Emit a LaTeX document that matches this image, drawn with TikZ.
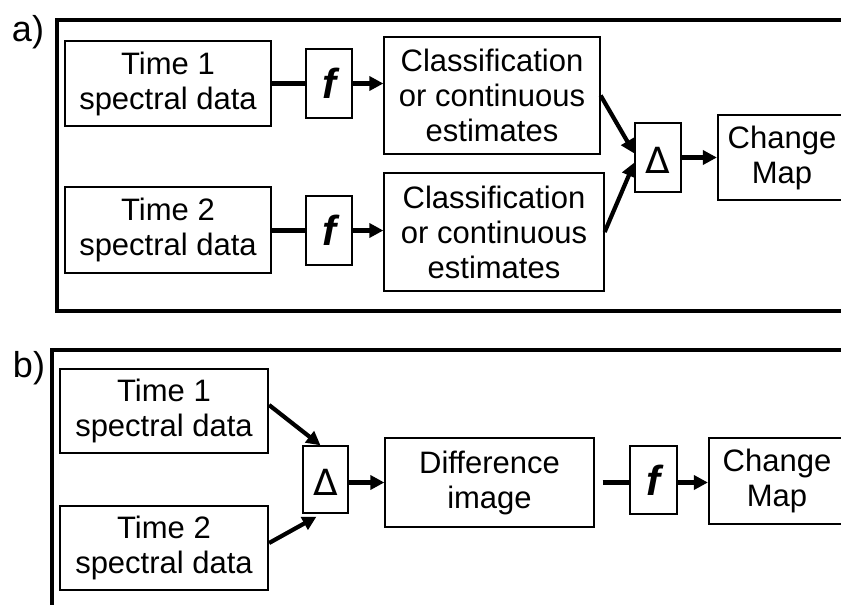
\documentclass[tikz,border=0pt]{standalone}
\usepackage{fontspec}
\setmainfont{Liberation Sans}
\newfontfamily\deltafont{DejaVu Sans}
\usetikzlibrary{arrows.meta,calc}
\begin{document}
\begin{tikzpicture}[x=1pt,y=-1pt,
  txt/.style={font=\fontsize{31}{35}\selectfont, align=center, inner sep=0pt},
  thickbox/.style={txt, draw, line width=2.2pt},
  thinbox/.style={txt, draw, line width=1.3pt},
  fbox/.style={draw, line width=1.3pt, inner sep=0pt, minimum width=46pt, minimum height=69pt, font=\fontsize{42}{42}\selectfont\bfseries\itshape},
  dbox/.style={draw, line width=1.3pt, inner sep=0pt, minimum width=46pt, minimum height=69pt, text height=32pt, text depth=0pt, font=\deltafont\fontsize{36}{36}\selectfont},
  frame/.style={line width=4pt},
  link/.style={line width=4.2pt},
  arr/.style={line width=4.2pt, -{Triangle[length=14pt,width=14pt]}},
  lbl/.style={font=\fontsize{36}{36}\selectfont, inner sep=0pt}
]
\useasboundingbox (0,0) rectangle (841,605);
\clip (0,0) rectangle (841,605);

% panel a
\draw[frame] (870,20) -| (57,311) -- (870,311);
\node[lbl] (la) at (28,32) {a)};
\node[thickbox, minimum width=206pt, minimum height=85pt] (t1a) at (168,83.5) {Time 1\\spectral data};
\node[thickbox, minimum width=206pt, minimum height=86pt] (t2a) at (168,230) {Time 2\\spectral data};
\node[fbox] (f1a) at (329,83.5) {f};
\node[fbox] (f2a) at (329,230.5) {f};
\node[thinbox, minimum width=216pt, minimum height=117pt] (c1a) at (492,95.5) {Classification\\or continuous\\estimates};
\node[thinbox, minimum width=220pt, minimum height=118pt] (c2a) at (494,232) {Classification\\or continuous\\estimates};
\node[dbox] (da) at (658,157.5) {Δ};
\node[thickbox, minimum width=128pt, minimum height=85pt] (cma) at (782,157.5) {Change\\Map};

\draw[link] (t1a) -- (f1a);
\draw[link] (t2a.east |- f2a.west) -- (f2a.west);
\draw[arr] (f1a.east) -- (f1a.east -| c1a.west);
\draw[arr] (f2a.east) -- (f2a.east -| c2a.west);
\draw[arr] (c1a.east) -- ($(da.west)+(0,-4)$);
\draw[arr] (c2a.east) -- ($(da.west)+(0,5)$);
\draw[arr] (da) -- (cma);

% panel b
\draw[frame] (870,350) -| (52,630);
\node[lbl] (lb) at (29,368) {b)};
\node[thickbox, minimum width=208pt, minimum height=84pt] (t1b) at (164,411) {Time 1\\spectral data};
\node[thickbox, minimum width=208pt, minimum height=84pt] (t2b) at (164,548) {Time 2\\spectral data};
\node[dbox, minimum width=45pt, minimum height=67pt] (db) at (325.5,479.5) {Δ};
\node[thinbox, minimum width=209pt, minimum height=89pt] (diff) at (489.5,482.5) {Difference\\image};
\node[fbox, minimum width=47pt, minimum height=68pt] (fb) at (653.5,480) {f};
\node[thickbox, minimum width=136pt, minimum height=86pt] (cmb) at (777,481) {Change\\Map};

\draw[arr] ($(t1b.east)+(0,-6)$) -- ($(db.north)+(-5,0)$);
\draw[arr] ($(t2b.east)+(0,-5)$) -- ($(db.south)+(-9,3)$);
\draw[arr] (diff.west -| db.east) -- (diff.west);
\draw[link] ($(diff.east)+(8,0)$) -- (diff.east -| fb.west);
\draw[arr] (diff.east -| fb.east) -- (diff.east -| cmb.west);
\end{tikzpicture}
\end{document}
